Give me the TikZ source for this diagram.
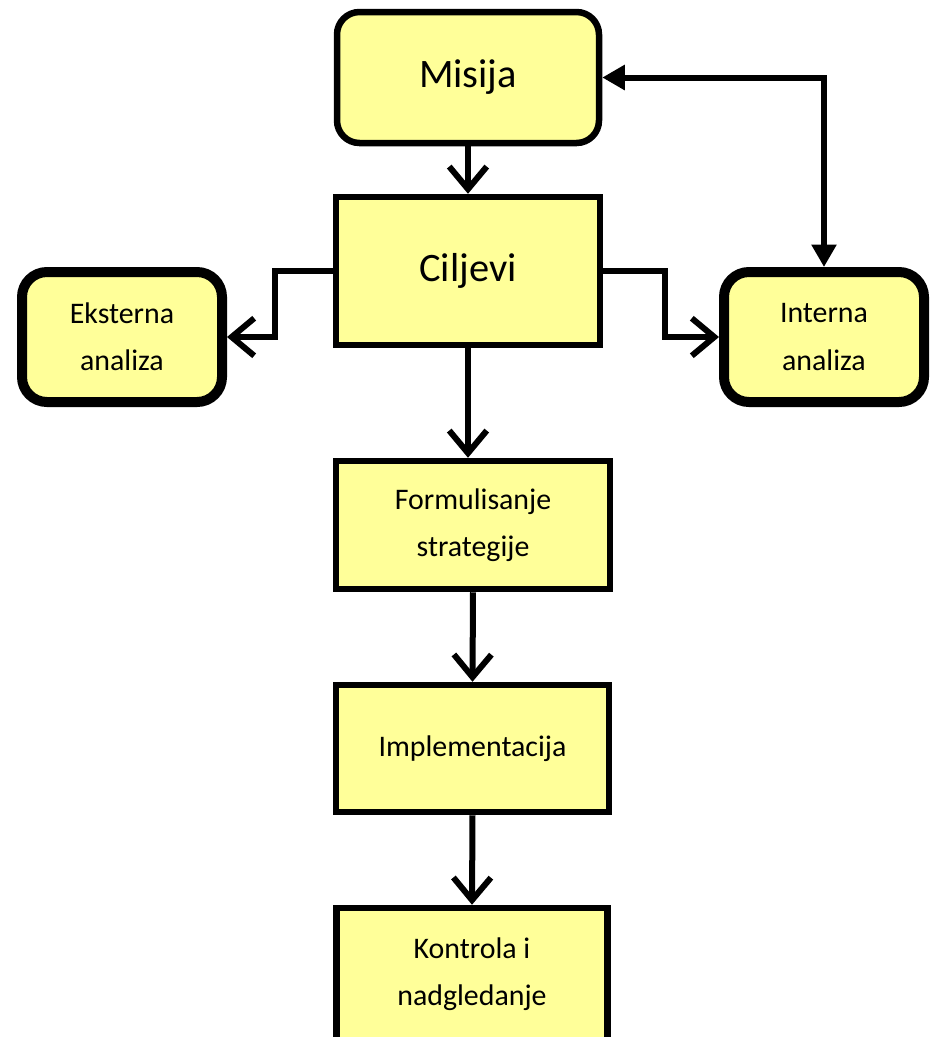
\documentclass[tikz,border=0pt]{standalone}
\usepackage{fontspec}
\setmainfont{Carlito}
\usetikzlibrary{arrows.meta}

\definecolor{boxyellow}{RGB}{255,255,153}

\begin{document}
\begin{tikzpicture}[
    box/.style={draw, fill=boxyellow, line width=0.13cm, inner sep=0pt, align=center,
                font=\fontsize{17}{27}\selectfont},
    roundbox/.style={box, rounded corners=0.45cm},
    sidebox/.style={box, line width=0.2cm, rounded corners=0.5cm,
                minimum width=4cm, minimum height=2.6cm},
    flow/.style={line width=0.12cm, -{Straight Barb[length=0.45cm,width=0.75cm]}},
    loopback/.style={line width=0.12cm, {Triangle[length=0.45cm,width=0.48cm]}-{Triangle[length=0.45cm,width=0.48cm]}}
  ]
    \useasboundingbox (0,0) rectangle (18.6,-20.74);
    % boxes
    \node[roundbox, minimum width=5.24cm, minimum height=2.62cm, font=\fontsize{23}{27}\selectfont]
        (misija) at (9.36,-1.55) {Misija};
    \node[box, minimum width=5.28cm, minimum height=2.96cm, font=\fontsize{23}{27}\selectfont]
        (ciljevi) at (9.36,-5.42) {Ciljevi};
    \node[sidebox] (eksterna) at (2.44,-6.74) {Eksterna\\analiza};
    \node[sidebox] (interna) at (16.48,-6.74) {Interna\\analiza};
    \node[box, minimum width=5.48cm, minimum height=2.56cm] (formul) at (9.46,-10.5) {Formulisanje\\strategije};
    \node[box, minimum width=5.46cm, minimum height=2.54cm] (impl) at (9.45,-14.97) {Implementacija};
    \node[box, minimum width=5.42cm, minimum height=2.64cm] (kontrola) at (9.44,-19.48) {Kontrola i\\nadgledanje};

    % connectors
    \draw[flow] (misija.south) -- (ciljevi.north);
    \draw[flow] (ciljevi.west) -- ++(-1.16,0) |- (eksterna.east);
    \draw[flow] (ciljevi.east) -- ++(1.24,0) |- (interna.west);
    \draw[loopback] (misija.east) -| (interna.north);
    \draw[flow] (ciljevi.south) -- (ciljevi.south |- formul.north);
    \draw[flow] (formul.south) -- (impl.north);
    \draw[flow] (impl.south) -- (kontrola.north);
\end{tikzpicture}
\end{document}
